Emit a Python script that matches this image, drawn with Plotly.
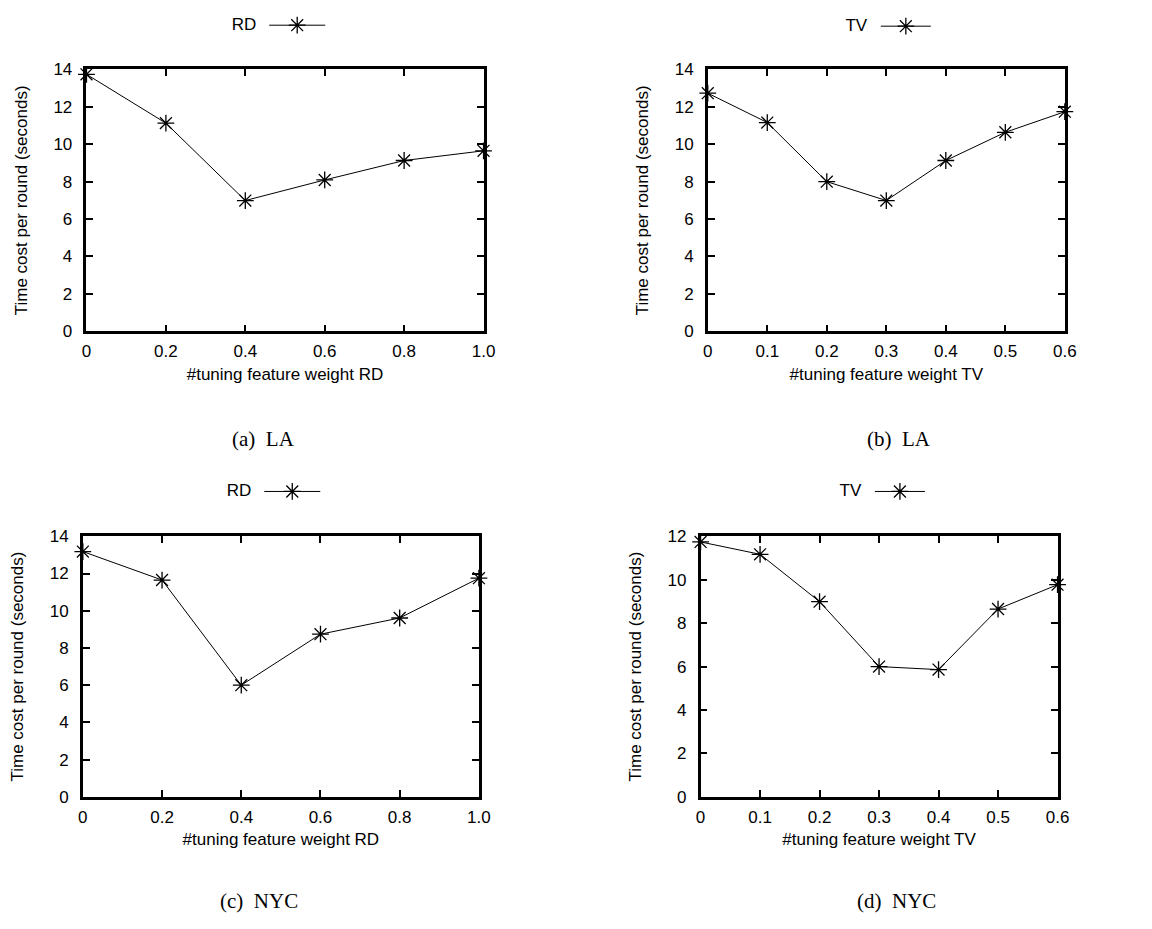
import plotly.graph_objects as go

# ---------------- data ----------------
x_rd = [0, 0.2, 0.4, 0.6, 0.8, 1.0]
x_rd_labels = ["0", "0.2", "0.4", "0.6", "0.8", "1.0"]
x_tv = [0, 0.1, 0.2, 0.3, 0.4, 0.5, 0.6]
x_tv_labels = ["0", "0.1", "0.2", "0.3", "0.4", "0.5", "0.6"]

la_rd = [13.74, 11.13, 6.99, 8.09, 9.13, 9.65]
la_tv = [12.73, 11.16, 8.0, 6.99, 9.13, 10.64, 11.74]
nyc_rd = [13.18, 11.65, 6.0, 8.74, 9.61, 11.75]
nyc_tv = [11.74, 11.17, 8.99, 6.0, 5.86, 8.65, 9.77]

series_names = ["RD", "TV", "RD", "TV"]
captions = ["(a)  LA", "(b)  LA", "(c)  NYC", "(d)  NYC"]
x_titles = ["#tuning feature weight RD", "#tuning feature weight TV",
            "#tuning feature weight RD", "#tuning feature weight TV"]
y_title = "Time cost per round (seconds)"
y_max = [14, 14, 14, 12]

# ---------------- layout helpers ----------------
W, H = 1152, 929


def px_x(v):
    return v / W


def px_y(v):
    return 1 - v / H


# plot boxes in pixels: (left, right, top, bottom)
boxes = [
    (82.7, 485.7, 61.7, 329.0),
    (713.3, 1075.7, 61.7, 329.0),
    (79.0, 481.0, 538.3, 804.3),
    (706.0, 1068.3, 538.3, 804.3),
]
legend_pos = [(228, 17), (851, 18), (223, 493), (845, 493)]
legend_itemw = [56, 50, 56, 50]
caption_pos = [(262, 439), (907, 439), (258, 911), (905, 911)]

FONT = "Liberation Sans, Arial, Helvetica, sans-serif"
SERIF = "Liberation Serif, Times New Roman, serif"

panel_x = [x_rd, x_tv, x_rd, x_tv]
panel_xl = [x_rd_labels, x_tv_labels, x_rd_labels, x_tv_labels]
panel_y = [la_rd, la_tv, nyc_rd, nyc_tv]

fig = go.Figure()
layout = dict(
    width=W, height=H,
    margin=dict(l=0, r=0, t=0, b=0),
    paper_bgcolor="white", plot_bgcolor="white",
    font=dict(family=FONT, size=17, color="black"),
    showlegend=True,
    annotations=[],
)

for i in range(4):
    sfx = "" if i == 0 else str(i + 1)
    lg = "legend" if i == 0 else "legend" + str(i + 1)
    fig.add_trace(go.Scatter(
        x=panel_x[i], y=panel_y[i],
        mode="lines+markers",
        name=" ",
        line=dict(color="black", width=1),
        marker=dict(symbol="asterisk-open", size=14,
                    line=dict(color="black", width=1.3), color="black"),
        cliponaxis=False,
        xaxis="x" + sfx, yaxis="y" + sfx,
        legend=lg,
    ))
    l, r, t, b = boxes[i]
    xr = panel_x[i][-1]
    layout["xaxis" + sfx] = dict(
        domain=[px_x(l), px_x(r)], anchor="y" + sfx,
        range=[0, xr], tickvals=panel_x[i], ticktext=panel_xl[i],
        ticks="inside", ticklen=7, tickwidth=1.5, tickcolor="black",
        showline=True, linewidth=2.5, linecolor="black", mirror="ticks",
        showgrid=False, zeroline=False,
        tickfont=dict(size=17), ticklabelstandoff=3,
        title=dict(text=x_titles[i], font=dict(size=17), standoff=8),
    )
    layout["yaxis" + sfx] = dict(
        domain=[px_y(b), px_y(t)], anchor="x" + sfx,
        range=[0, y_max[i]], dtick=2, tick0=0,
        ticks="inside", ticklen=7, tickwidth=1.5, tickcolor="black",
        showline=True, linewidth=2.5, linecolor="black", mirror="ticks",
        showgrid=False, zeroline=False,
        tickfont=dict(size=17), ticklabelstandoff=8,
        title=dict(text=y_title, font=dict(size=17), standoff=22),
    )
    lx, ly = legend_pos[i]
    layout[lg] = dict(
        x=px_x(lx), y=px_y(ly), xanchor="left", yanchor="middle",
        orientation="h", bgcolor="rgba(0,0,0,0)", borderwidth=0,
        itemwidth=legend_itemw[i],
        title=dict(text=series_names[i], side="left", font=dict(size=17)),
        font=dict(size=17),
    )
    cx, cy = caption_pos[i]
    layout["annotations"].append(dict(
        text=captions[i], x=px_x(cx), y=px_y(cy), xref="paper", yref="paper",
        xanchor="center", yanchor="middle", showarrow=False,
        font=dict(family=SERIF, size=21, color="black"),
    ))

fig.update_layout(**layout)
fig.write_html("out.html")
